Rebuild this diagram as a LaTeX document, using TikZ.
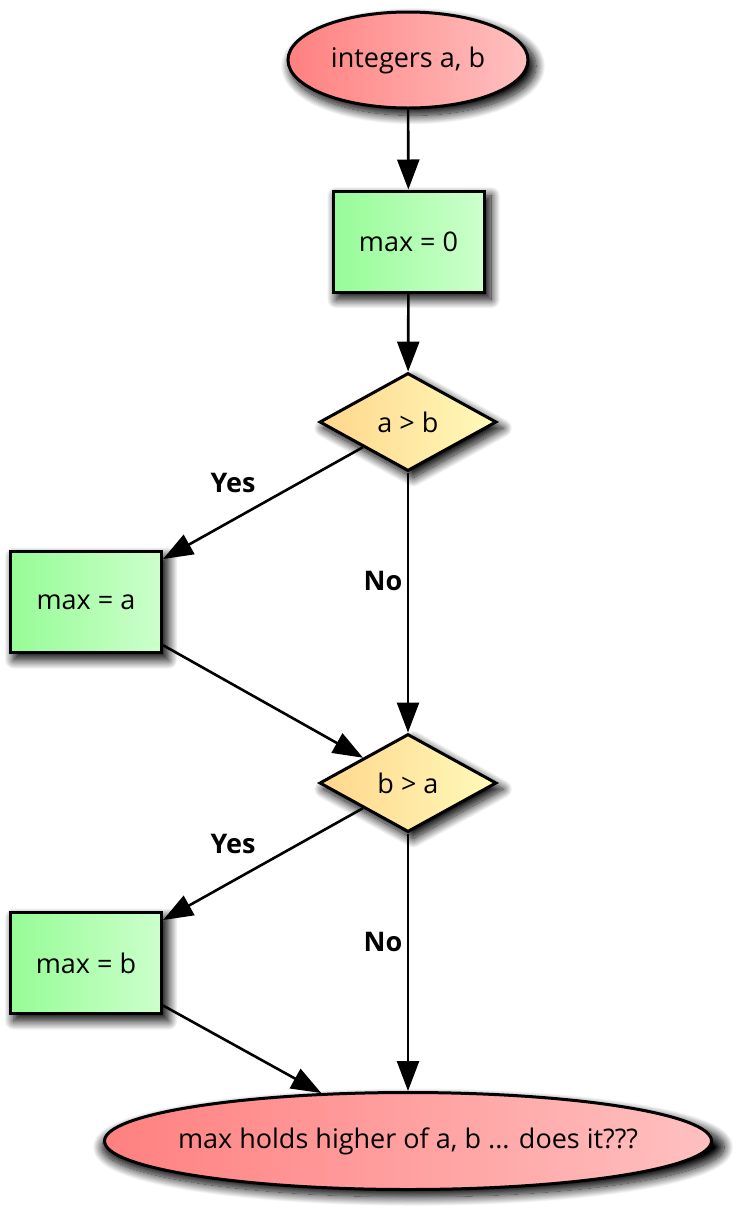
\documentclass[tikz,border=0pt]{standalone}
\usepackage{fontspec}
\setmainfont{Open Sans}
\usetikzlibrary{shapes.geometric,arrows.meta,shadows.blur}

\definecolor{termL}{RGB}{255,128,128}
\definecolor{termR}{RGB}{255,192,192}
\definecolor{procL}{RGB}{150,252,150}
\definecolor{procR}{RGB}{204,255,204}
\definecolor{decL}{RGB}{255,214,140}
\definecolor{decR}{RGB}{255,250,186}

\begin{document}
\begin{tikzpicture}[x=1pt,y=-1pt,
  base/.style={draw=black, line width=3pt, text=black,
    font=\fontsize{27}{32}\selectfont,
    blur shadow={shadow xshift=5pt, shadow yshift=-6pt, shadow scale=1.025,
      shadow blur radius=9pt, shadow blur steps=16, shadow opacity=100}},
  terminal/.style={base, ellipse, inner sep=0pt, left color=termL, right color=termR},
  process/.style={base, rectangle, minimum width=151pt, minimum height=101pt,
    left color=procL, right color=procR},
  decision/.style={base, diamond, aspect=1.8, inner sep=0pt,
    minimum width=177pt, minimum height=98pt, left color=decL, right color=decR},
  flow/.style={line width=2.6pt, -{Triangle[length=30pt,width=22pt]}},
  tag/.style={font=\bfseries\fontsize{27}{32}\selectfont}]

\useasboundingbox (0,0) rectangle (736,1219);

% nodes
\node[terminal, minimum width=240pt, minimum height=96pt] (start) at (408,60)
  {\makebox[0pt]{integers a, b}};
\node[process] (init) at (408.5,241.5) {max = 0};
\node[decision] (d1) at (408,422) {a > b};
\node[process] (seta) at (86,602) {max = a};
\node[decision] (d2) at (408,783) {b > a};
\node[process] (setb) at (86,963) {max = b};
\node[terminal, minimum width=607pt, minimum height=97pt] (finish) at (408,1141)
  {\makebox[0pt]{max holds higher of a, b ... does it???}};

% connectors
\draw[flow] (start) -- (init);
\draw[flow] (init) -- (d1);
\draw[flow] (d1) -- (seta);
\draw[flow] (d1) -- (d2);
\draw[flow] (seta) -- (d2);
\draw[flow] (d2) -- (setb);
\draw[flow] (d2) -- (finish);
\draw[flow] (setb) -- (finish);

% branch labels
\node[tag] (yes1) at (233,483) {Yes};
\node[tag] (no1) at (383,581) {No};
\node[tag] (yes2) at (233,844) {Yes};
\node[tag] (no2) at (383,942) {No};
\end{tikzpicture}
\end{document}
